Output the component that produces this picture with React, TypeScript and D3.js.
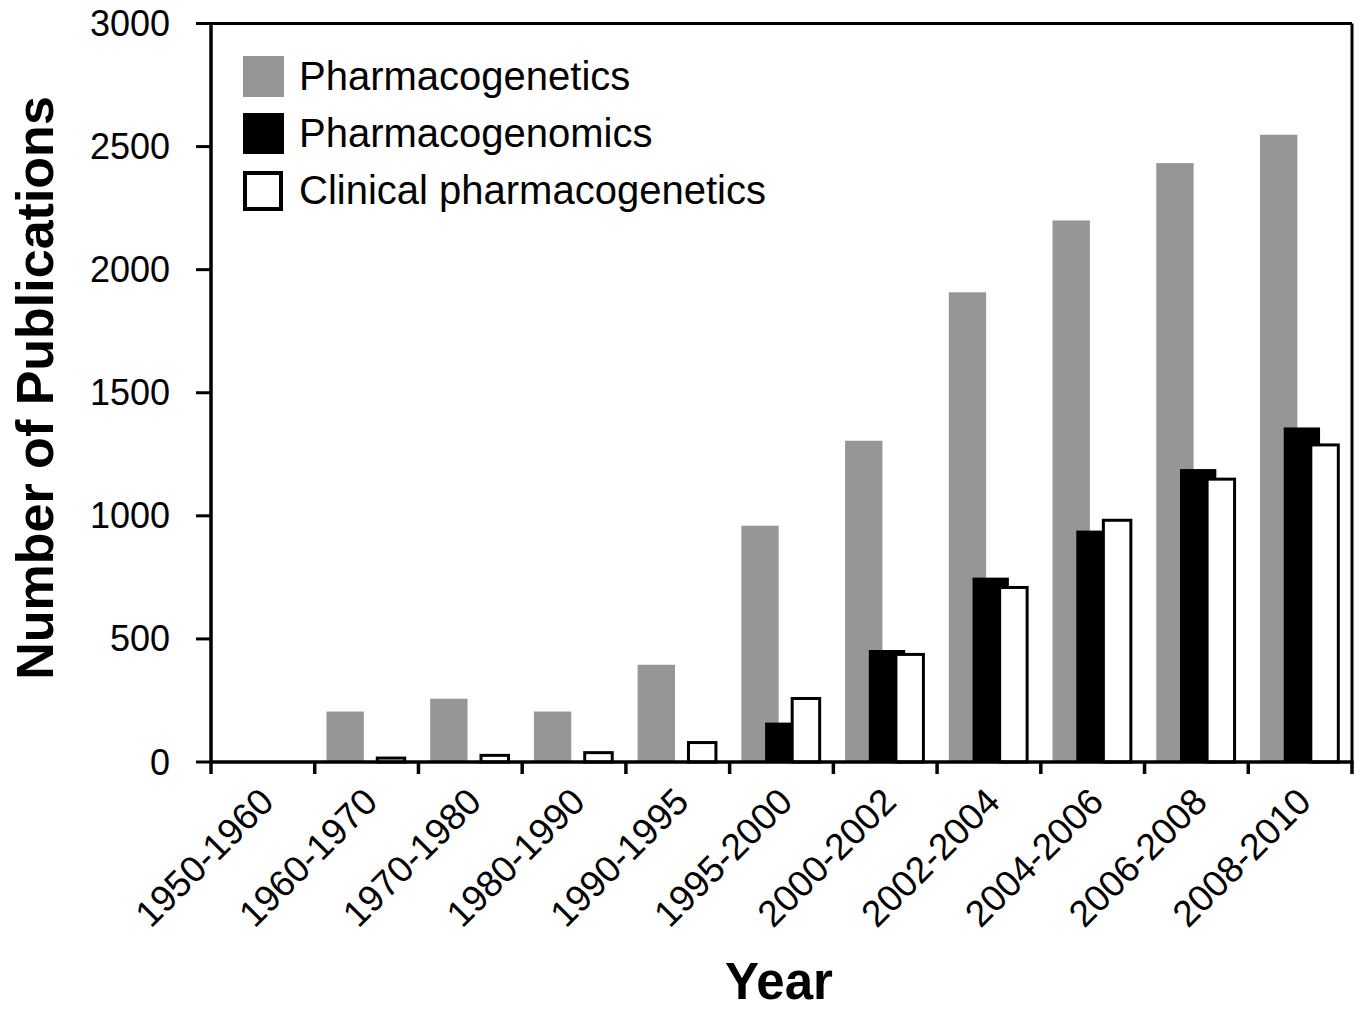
import React from "react";
import * as d3 from "d3";

const categories = [
  "1950-1960", "1960-1970", "1970-1980", "1980-1990", "1990-1995", "1995-2000",
  "2000-2002", "2002-2004", "2004-2006", "2006-2008", "2008-2010",
];
const pharmacogenetics = [0, 205, 257, 205, 395, 960, 1305, 1908, 2200, 2433, 2548];
const pharmacogenomics = [0, 0, 0, 0, 0, 160, 455, 749, 940, 1190, 1359];
const clinicalPharmacogenetics = [0, 16, 27, 38, 79, 258, 437, 709, 982, 1149, 1288];
const yTicks = [0, 500, 1000, 1500, 2000, 2500, 3000];
const legendLabels = ["Pharmacogenetics", "Pharmacogenomics", "Clinical pharmacogenetics"];

const W = 1363;
const H = 1011;
const left = 211;
const right = 1352;
const top = 23.5;
const bottom = 762;
const FONT = "'Liberation Sans', Arial, Helvetica, sans-serif";
const GRAY = "#969696";

export default function App() {
  const x = d3.scaleBand<string>().domain(categories).range([left, right]).padding(0);
  const y = d3.scaleLinear().domain([0, 3000]).range([bottom, top]);
  const bw = x.bandwidth();

  const boundaries = categories.map((c) => x(c) as number).concat([right]);

  return (
    <svg width={W} height={H} style={{ position: "absolute", left: 0, top: 0, background: "#fff" }}>
      <rect x={0} y={0} width={W} height={H} fill="#fff" />
      {/* Gray bars */}
      {categories.map((c, i) =>
        pharmacogenetics[i] > 0 ? (
          <rect
            key={"g" + c}
            x={(x(c) as number) + bw * 0.113}
            y={y(pharmacogenetics[i])}
            width={bw * 0.36}
            height={bottom - y(pharmacogenetics[i])}
            fill={GRAY}
          />
        ) : null
      )}
      {/* Black bars */}
      {categories.map((c, i) =>
        pharmacogenomics[i] > 0 ? (
          <rect
            key={"b" + c}
            x={(x(c) as number) + bw * 0.342}
            y={y(pharmacogenomics[i])}
            width={bw * 0.35}
            height={bottom - y(pharmacogenomics[i])}
            fill="#000"
          />
        ) : null
      )}
      {/* White bars */}
      {categories.map((c, i) =>
        clinicalPharmacogenetics[i] > 0 ? (
          <rect
            key={"w" + c}
            x={(x(c) as number) + bw * 0.603}
            y={y(clinicalPharmacogenetics[i])}
            width={bw * 0.265}
            height={bottom - y(clinicalPharmacogenetics[i])}
            fill="#fff"
            stroke="#000"
            strokeWidth={3}
          />
        ) : null
      )}

      {/* Frame */}
      <line x1={left} x2={right} y1={top} y2={top} stroke="#000" strokeWidth={3} />
      <line x1={right} x2={right} y1={top} y2={bottom} stroke="#000" strokeWidth={3} />
      <line x1={left} x2={left} y1={top - 1.5} y2={bottom + 1.5} stroke="#000" strokeWidth={3.5} />
      <line x1={left - 1.5} x2={right + 1.5} y1={bottom} y2={bottom} stroke="#000" strokeWidth={3.5} />

      {/* Y ticks */}
      {yTicks.map((t) => (
        <g key={"yt" + t}>
          <line x1={left - 15} x2={left} y1={y(t)} y2={y(t)} stroke="#000" strokeWidth={3} />
          <text
            x={170}
            y={y(t)}
            textAnchor="end"
            dominantBaseline="central"
            fontFamily={FONT}
            fontSize={36}
            fill="#000"
          >
            {t}
          </text>
        </g>
      ))}

      {/* X ticks */}
      {boundaries.map((b, i) => (
        <line key={"xt" + i} x1={b} x2={b} y1={bottom} y2={bottom + 12} stroke="#000" strokeWidth={3.5} />
      ))}
      {categories.map((c) => {
        const cx = (x(c) as number) + bw / 2 + 13;
        const cy = bottom + 42;
        return (
          <text
            key={"xl" + c}
            transform={`translate(${cx},${cy}) rotate(-45)`}
            textAnchor="end"
            fontFamily={FONT}
            fontSize={37}
            fill="#000"
          >
            {c}
          </text>
        );
      })}

      {/* Axis titles */}
      <text
        transform={`translate(53,388) rotate(-90)`}
        textAnchor="middle"
        fontFamily={FONT}
        fontWeight="bold"
        fontSize={52}
        fill="#000"
      >
        Number of Publications
      </text>
      <text x={779} y={999} textAnchor="middle" fontFamily={FONT} fontWeight="bold" fontSize={51} fill="#000">
        Year
      </text>

      {/* Legend */}
      <rect x={243} y={56} width={41} height={41} fill={GRAY} />
      <rect x={243} y={113} width={41} height={41} fill="#000" />
      <rect x={245} y={173} width={36} height={36} fill="#fff" stroke="#000" strokeWidth={4} />
      {legendLabels.map((l, i) => (
        <text key={l} x={299} y={90 + i * 57} fontFamily={FONT} fontSize={40} fill="#000">
          {l}
        </text>
      ))}
    </svg>
  );
}
